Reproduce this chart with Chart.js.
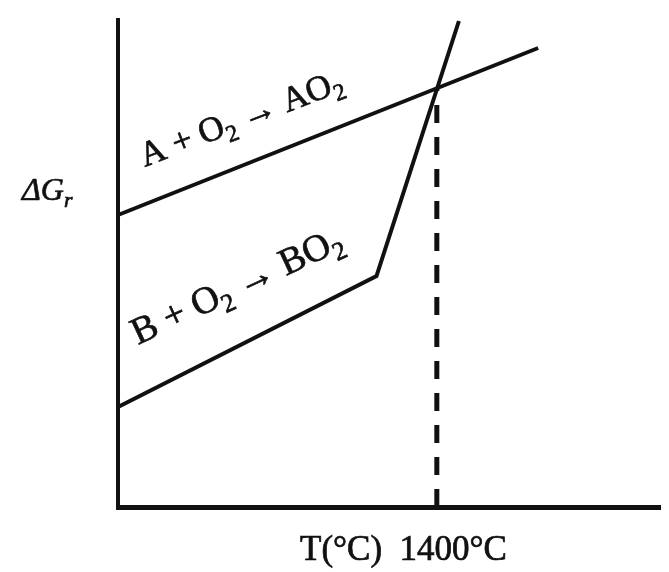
<!DOCTYPE html>
<html>
<head>
<meta charset="utf-8">
<script src="https://cdn.jsdelivr.net/npm/chart.js@4.4.1/dist/chart.umd.min.js"></script>
<style>
  html, body { margin: 0; padding: 0; background: #fff; }
  #wrap { width: 669px; height: 572px; position: relative; }
</style>
</head>
<body>
<div id="wrap"><canvas id="chart"></canvas></div>
<script>
  // temperatures (°C) and free energy (arbitrary units)
  const tempA = [0, 1845];
  const dgA = [292, 459];
  const tempB = [0, 1135, 1497];
  const dgB = [100, 231, 486];
  const tempMark = [1400, 1400];
  const dgMark = [0, 418];

  const X_MAX = 2380;
  const Y_MAX = 487;
  const INK = "#111";
  const SERIF = "'Liberation Serif', 'DejaVu Serif', serif";

  function pts(xs, ys) {
    return xs.map((x, i) => ({ x: x, y: ys[i] }));
  }

  // draw text pieces in a row, some of them as subscripts
  function drawRich(ctx, parts, x, y, angle, size, italic) {
    ctx.save();
    ctx.translate(x, y);
    ctx.rotate(angle);
    ctx.fillStyle = INK;
    ctx.strokeStyle = INK;
    ctx.lineWidth = 0.7;
    ctx.textBaseline = "alphabetic";
    ctx.textAlign = "left";
    let cx = 0;
    parts.forEach((p) => {
      const fs = p.sub ? size * 0.68 : size;
      ctx.font = (italic ? "italic " : "") + fs + "px " + SERIF;
      const dy = p.sub ? size * 0.22 : 0;
      ctx.fillText(p.t, cx, dy);
      ctx.strokeText(p.t, cx, dy);
      cx += ctx.measureText(p.t).width;
    });
    ctx.restore();
  }

  const labelsPlugin = {
    id: "labels",
    afterDraw(chart) {
      const ctx = chart.ctx;
      const xs = chart.scales.x;
      const ys = chart.scales.y;
      const deg = Math.PI / 180;

      drawRich(ctx, [{ t: "A + O" }, { t: "2", sub: true }, { t: " \u2192 AO" }, { t: "2", sub: true }],
        xs.getPixelForValue(118), ys.getPixelForValue(340), -21 * deg, 35, false);

      drawRich(ctx, [{ t: "B + O" }, { t: "2", sub: true }, { t: " \u2192 BO" }, { t: "2", sub: true }],
        xs.getPixelForValue(88), ys.getPixelForValue(162), -25 * deg, 38, false);

      drawRich(ctx, [{ t: "\u0394G" }, { t: "r", sub: true }], 22, 200, 0, 32, true);

      drawRich(ctx, [{ t: "T(\u00b0C)  1400\u00b0C" }], 300, 560, 0, 35, false);
    },
  };

  new Chart(document.getElementById("chart"), {
    type: "line",
    data: {
      datasets: [
        { data: pts(tempA, dgA), borderColor: INK, borderWidth: 4 },
        { data: pts(tempB, dgB), borderColor: INK, borderWidth: 4 },
        { data: pts(tempMark, dgMark), borderColor: INK, borderWidth: 5, borderDash: [18, 14] },
      ],
    },
    options: {
      responsive: true,
      maintainAspectRatio: false,
      animation: false,
      clip: false,
      elements: { point: { radius: 0 }, line: { tension: 0 } },
      layout: { padding: { left: 118, right: 9, top: 20, bottom: 65 } },
      plugins: { legend: { display: false }, tooltip: { enabled: false } },
      scales: {
        x: {
          type: "linear",
          min: 0,
          max: X_MAX,
          ticks: { display: false },
          grid: { display: false, drawTicks: false },
          border: { display: true, color: INK, width: 5 },
        },
        y: {
          min: 0,
          max: Y_MAX,
          ticks: { display: false },
          grid: { display: false, drawTicks: false },
          border: { display: true, color: INK, width: 4 },
        },
      },
    },
    plugins: [labelsPlugin],
  });
</script>
</body>
</html>
